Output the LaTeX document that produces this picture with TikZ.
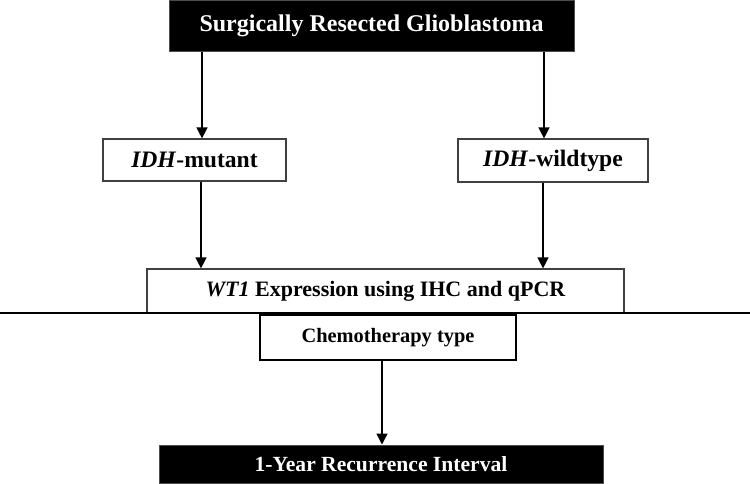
\documentclass[tikz,border=0pt]{standalone}
\usepackage{fontspec}
\setmainfont{Liberation Serif}
\usetikzlibrary{arrows.meta}

\begin{document}
\begin{tikzpicture}[x = 0.5pt, y = -0.5pt,
	 darkbox/.style = {fill = black, draw = black!70, line width = 0.5pt, text = white, inner sep = 0pt, font = \bfseries},
	 whitebox/.style = {fill = white, draw = black!75, line width = 0.6pt, inner sep = 0pt, font = \bfseries},
	 link/.style = {line width = 0.7pt, ->, >={Triangle[length = 5.5pt, width = 5.5pt]}}]
	 \useasboundingbox (0, 0) rectangle (750, 483);
	 
	 \node[darkbox, minimum width = 202.5pt, minimum height = 25.5pt, font = \fontsize{12}{14}\selectfont\bfseries] (resect) at (371.5, 25.5) {Surgically Resected Glioblastoma};
	 
	 \node[whitebox, minimum width = 91.5pt, minimum height = 21pt, font = \fontsize{11.8}{14}\selectfont\bfseries] (mutant) at (194.5, 160) {\textit{IDH}-mutant};
	 \node[whitebox, minimum width = 95pt, minimum height = 21.5pt, font = \fontsize{11.8}{14}\selectfont\bfseries] (wildtype) at (553, 160.5) {\textit{IDH}-wildtype};
	 
	 \node[whitebox, minimum width = 238.5pt, minimum height = 22pt, font = \fontsize{11}{13}\selectfont\bfseries] (wtexpr) at (385.5, 291) {\textit{WT1} Expression using IHC and qPCR};
	 
	 \draw[line width = 0.6pt] (0, 313) -- (750, 313);
	 
	 \node[whitebox, draw = black, line width = 1.2pt, minimum width = 128pt, minimum height = 22.5pt, font = \fontsize{10.2}{12}\selectfont\bfseries] (chemo) at (388, 337.5) {Chemotherapy type};
	 
	 \node[darkbox, minimum width = 222pt, minimum height = 19pt, font = \fontsize{10.8}{13}\selectfont\bfseries] (interval) at (381, 464) {1-Year Recurrence Interval};
	 
	 \draw[link] ([xshift = 3.75pt]mutant.north |- resect.south) -- ([xshift = 3.75pt]mutant.north);
	 \draw[link] ([xshift = -4.5pt]wildtype.north |- resect.south) -- ([xshift = -4.5pt]wildtype.north);
	 
	 \draw[link] ([xshift = 3.25pt]mutant.south) -- ([xshift = 3.25pt]mutant.south |- wtexpr.north);
	 \draw[link] ([xshift = -5pt]wildtype.south) -- ([xshift = -5pt]wildtype.south |- wtexpr.north);
	 
	 \draw[link] ([xshift = -3pt]chemo.south) -- ([xshift = -3pt]chemo.south |- interval.north);
\end{tikzpicture}
\end{document}
